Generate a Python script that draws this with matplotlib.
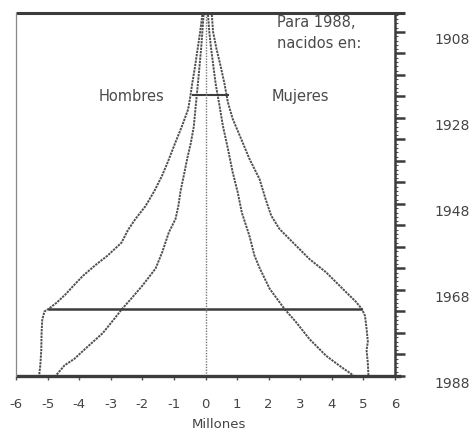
import matplotlib
matplotlib.use("Agg")
import matplotlib.pyplot as plt
from matplotlib.ticker import MultipleLocator, FuncFormatter, FixedLocator

plt.rcParams['font.family'] = ['DejaVu Sans']

# ---- data (millions, by year of birth; population in 1988) ----
men_outer_years = [1904, 1908, 1912, 1916, 1920, 1923, 1926, 1930, 1934, 1938, 1941.5, 1945,
                   1948.5, 1951.5, 1954, 1957, 1960, 1962, 1964.7, 1967, 1969, 1971, 1972.4,
                   1973, 1975, 1978, 1982, 1985.5, 1988]
men_outer = [-0.10, -0.17, -0.25, -0.33, -0.42, -0.48, -0.55, -0.75, -0.97, -1.18, -1.38, -1.62,
             -1.90, -2.22, -2.45, -2.66, -3.10, -3.45, -3.88, -4.18, -4.43, -4.72, -4.97,
             -5.10, -5.17, -5.19, -5.20, -5.23, -5.27]

men_inner_years = [1904, 1908, 1912, 1916, 1920, 1923, 1926, 1930, 1934, 1937.5, 1941.5, 1945,
                   1948.5, 1951.5, 1954.6, 1959.2, 1963, 1967, 1970, 1972.4, 1975, 1978,
                   1981.5, 1984, 1985.5, 1988]
men_inner = [-0.06, -0.10, -0.14, -0.19, -0.24, -0.28, -0.32, -0.37, -0.47, -0.58, -0.69, -0.79,
             -0.86, -0.95, -1.16, -1.37, -1.58, -2.00, -2.35, -2.64, -2.92, -3.25,
             -3.78, -4.15, -4.46, -4.75]

women_inner_years = [1904, 1908, 1912, 1916, 1920, 1925, 1929.8, 1935.2, 1940.6, 1945.3, 1950,
                     1955.4, 1960, 1963, 1967.7, 1972.4, 1975.5, 1979.4, 1983.3, 1985.6,
                     1987.5, 1988]
women_inner = [0.08, 0.12, 0.18, 0.25, 0.32, 0.44, 0.55, 0.71, 0.86, 1.02, 1.15,
               1.39, 1.55, 1.72, 2.03, 2.50, 2.87, 3.29, 3.82, 4.24,
               4.61, 4.70]

women_outer_years = [1904, 1908, 1912, 1916, 1920, 1924.4, 1928.2, 1932.9, 1937.5, 1942.2,
                     1946.8, 1950.7, 1953.8, 1956.9, 1960.8, 1963.9, 1967.7, 1970.8, 1972.4,
                     1974, 1977, 1980, 1982, 1985, 1988]
women_outer = [0.20, 0.24, 0.35, 0.48, 0.60, 0.71, 0.86, 1.13, 1.39, 1.71,
               1.90, 2.08, 2.34, 2.76, 3.29, 3.82, 4.34, 4.77, 4.95,
               5.05, 5.10, 5.14, 5.10, 5.14, 5.16]

# marker lines
boom_year = 1972.5
boom_span = [-4.96, 4.93]
early_year = 1922.7
early_span = [-0.40, 0.70]

x_ticks = [-6, -5, -4, -3, -2, -1, 0, 1, 2, 3, 4, 5, 6]
year_labels = [1908, 1928, 1948, 1968, 1988]

# ---- figure ----
W, H = 471, 431
fig = plt.figure(figsize=(W / 100, H / 100), dpi=100)
ax = fig.add_axes([16 / W, (H - 377) / H, (395 - 16) / W, (377 - 14) / H])

ink = '#505050'
dark = '#3c3c3c'

for ys, xs in [(men_outer_years, men_outer), (men_inner_years, men_inner),
               (women_inner_years, women_inner), (women_outer_years, women_outer)]:
    ax.plot(xs, ys, color=ink, lw=1.4, ls=(0, (1.2, 0.5)))

ax.plot(boom_span, [boom_year, boom_year], color=dark, lw=1.8)
ax.plot(early_span, [early_year, early_year], color=dark, lw=1.5)
ax.axvline(0, color='#777777', lw=1.0, ls=(0, (1, 1)))

ax.set_xlim(-6, 6)
ax.set_ylim(1988, 1903.6)

# spines
for s in ['top', 'bottom', 'right']:
    ax.spines[s].set_visible(False)
ax.spines['left'].set_color('#888888')
ax.spines['left'].set_linewidth(0.9)
ax.spines['left'].set_linestyle((0, (1, 1)))
ax.plot([0, 1.027], [1, 1], transform=ax.transAxes, color=dark, lw=2.2, clip_on=False,
        solid_capstyle='butt')
ax.plot([0, 1.015], [0, 0], transform=ax.transAxes, color=dark, lw=2.4, clip_on=False,
        solid_capstyle='butt')
ax.plot([1, 1], [0, 1], transform=ax.transAxes, color=dark, lw=1.8, clip_on=False)

# x axis
ax.set_xticks(x_ticks)
ax.set_xticklabels([str(v) for v in x_ticks])
ax.tick_params(axis='x', direction='out', length=3, width=1.0, color=ink, pad=12,
               labelsize=9.5, labelcolor='#444444')

# y axis on right
ax.yaxis.tick_right()
ax.yaxis.set_major_locator(FixedLocator(list(range(1908, 1989, 5))))
ax.yaxis.set_major_formatter(FuncFormatter(lambda v, p: str(int(round(v))) if int(round(v)) in year_labels else ''))
ax.yaxis.set_minor_locator(MultipleLocator(1))
ax.tick_params(axis='y', which='major', direction='out', length=7.2, width=1.8, color=dark,
               pad=21.5, labelsize=10, labelcolor='#444444', left=False, right=True)
ax.tick_params(axis='y', which='minor', direction='out', length=2.0, width=0.8, color=ink,
               left=False, right=True)
for lab in ax.get_yticklabels():
    lab.set_va('top')

# annotations
ax.text(-2.33, 1922.7, 'Hombres', ha='center', va='center', fontsize=10.5, color='#4a4a4a')
ax.text(3.0, 1922.7, 'Mujeres', ha='center', va='center', fontsize=10.5, color='#4a4a4a')
ax.text(2.25, 1906.6, 'Para 1988,', ha='left', va='baseline', fontsize=10.5, color='#4a4a4a')
ax.text(2.25, 1911.5, 'nacidos en:', ha='left', va='baseline', fontsize=10.5, color='#4a4a4a')

fig.text(219 / W, (H - 425) / H, 'Millones', ha='center', va='center', fontsize=9.5,
         color='#444444')

fig.savefig('out.png', dpi=100, facecolor='white')
